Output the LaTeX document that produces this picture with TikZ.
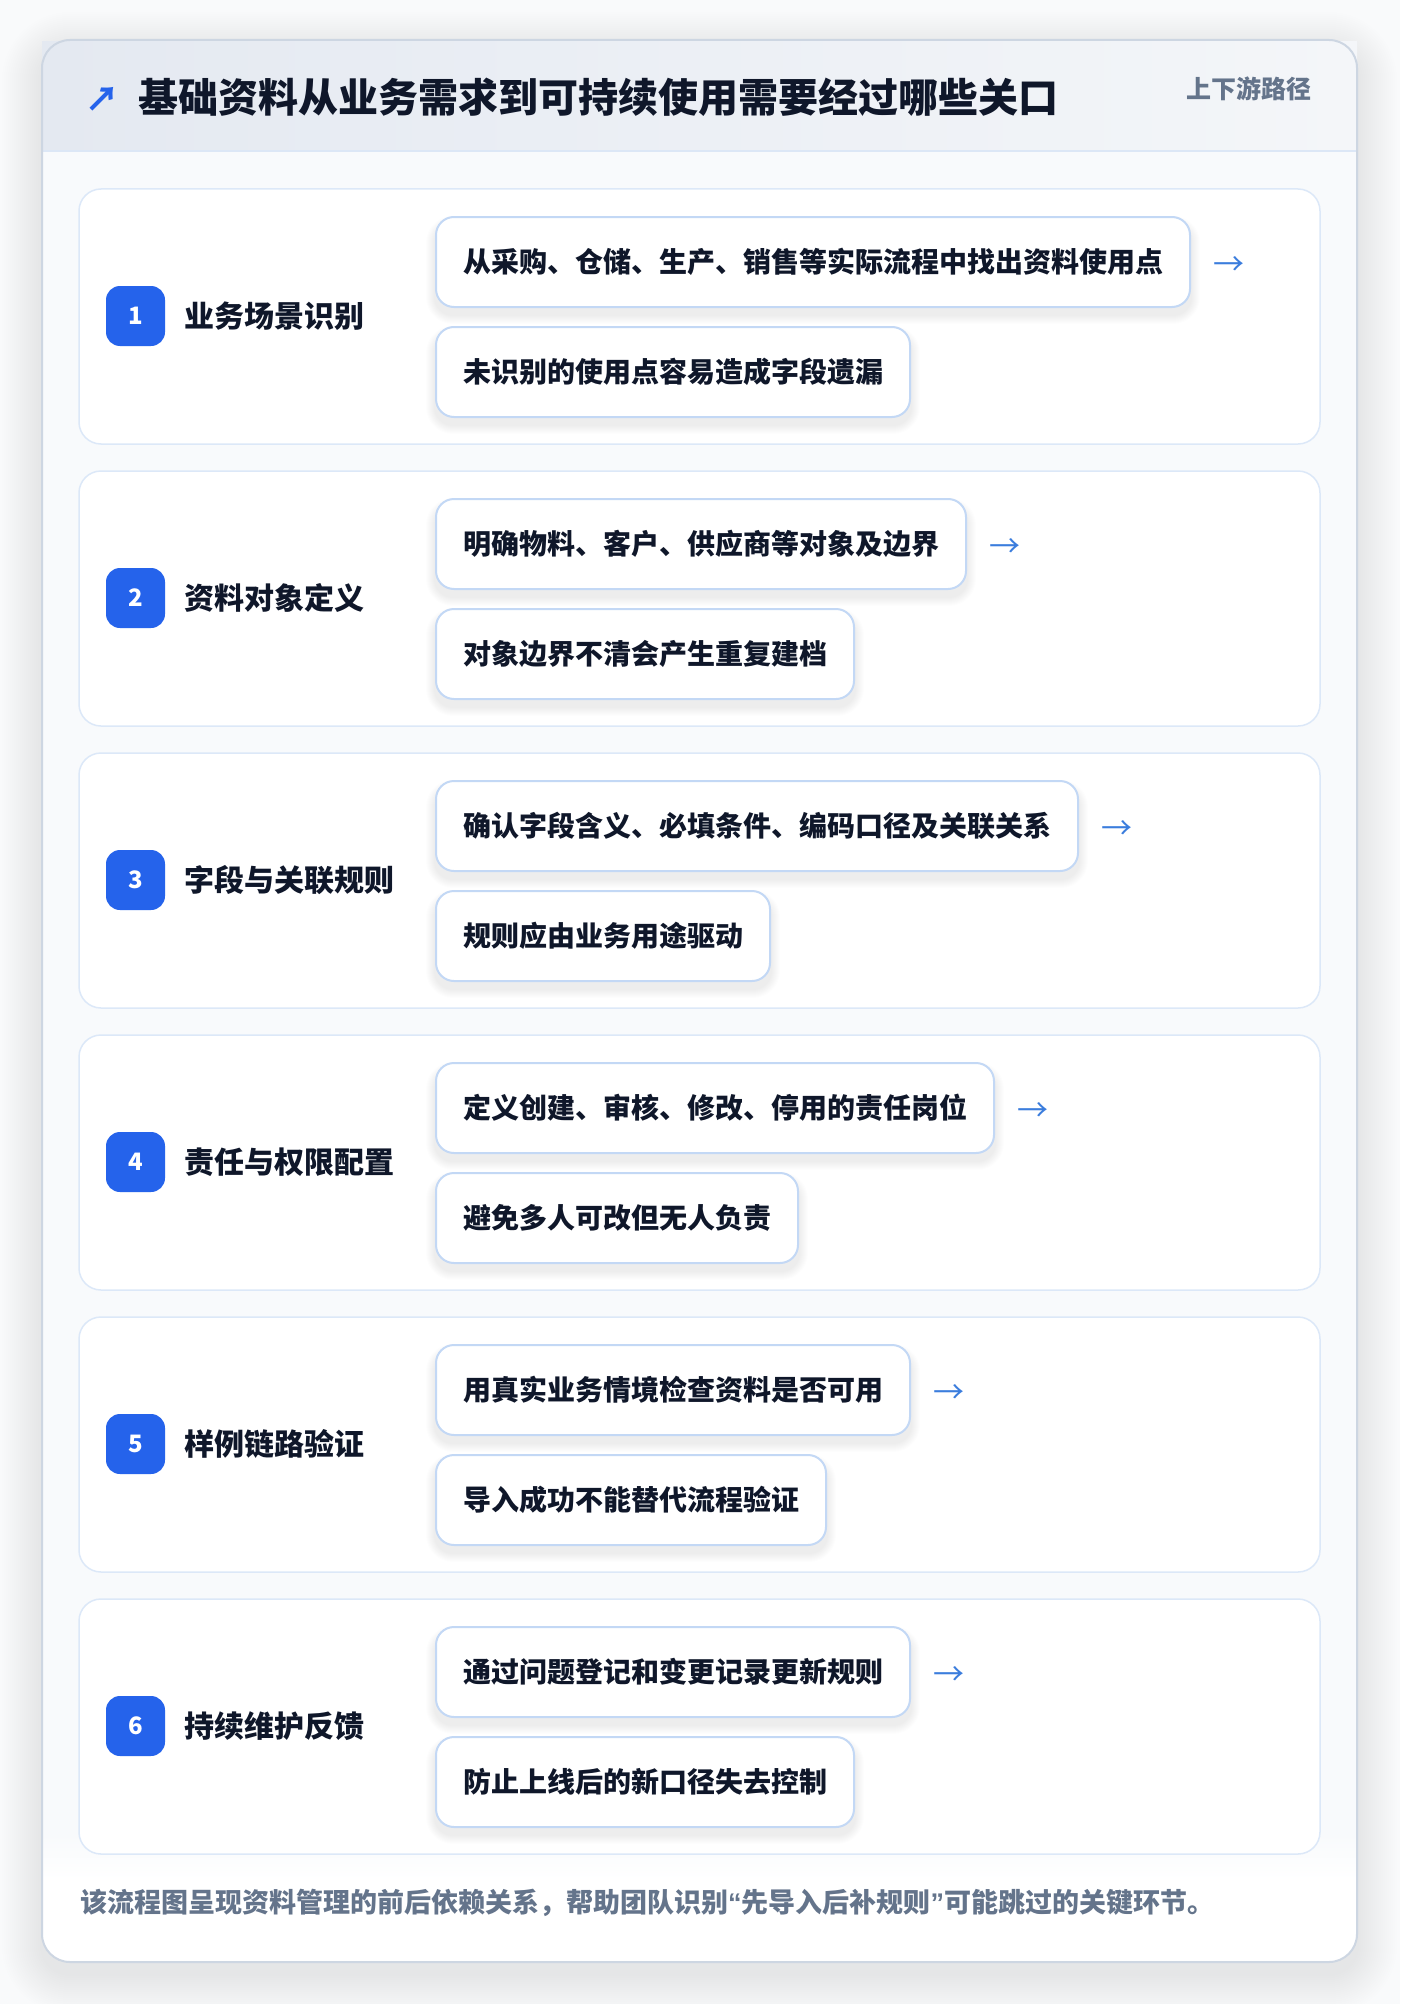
\documentclass[tikz,border=0pt]{standalone}
\usepackage{fontspec}
\setmainfont{Noto Sans CJK SC}[BoldFont={* Black}]
\newfontfamily\quotefont{Liberation Sans}
\usetikzlibrary{calc}
\definecolor{pagebg}{HTML}{F9FAFB}
\definecolor{cardline}{HTML}{CDD6E2}
\definecolor{bodybg}{HTML}{F8FAFC}
\definecolor{hdrL}{HTML}{E4E9F1}
\definecolor{hdrR}{HTML}{F4F6F9}
\definecolor{hdrline}{HTML}{DCE7F6}
\definecolor{panelline}{HTML}{DCE8F8}
\definecolor{boxline}{HTML}{C3D8F5}
\definecolor{badgec}{HTML}{2563EB}
\definecolor{ink}{HTML}{0F172A}
\definecolor{muted}{HTML}{64748B}
\definecolor{arrowc}{HTML}{3B7DDD}
\pgfdeclarelayer{cardlayer}
\pgfdeclarelayer{panellayer}
\pgfdeclarelayer{shadowlayer}
\pgfsetlayers{cardlayer,panellayer,shadowlayer,main}
\tikzset{
  panelbox/.style={draw=panelline, line width=1.5pt, fill=white, rounded corners=22pt,
    minimum width=1241pt, minimum height=255pt, inner sep=0pt, outer sep=0pt, anchor=north west},
  badgebox/.style={fill=badgec, rounded corners=14pt, minimum width=59pt, minimum height=60pt,
    inner sep=0pt, text=white, font=\bfseries\fontsize{24}{24}\selectfont},
  steptitle/.style={anchor=west, inner sep=0pt, text=ink, font=\bfseries\fontsize{30}{36}\selectfont},
  itembox/.style={anchor=west, draw=boxline, line width=2pt, fill=white, rounded corners=18pt,
    minimum height=90pt, inner xsep=27pt, inner ysep=0pt, text=ink,
    font=\bfseries\fontsize{28}{34}\selectfont},
  arrowtxt/.style={anchor=west, inner sep=0pt, text=arrowc, font=\fontsize{31}{31}\selectfont},
}
\begin{document}
\begin{tikzpicture}[x=1pt,y=-1pt]
\useasboundingbox (0,0) rectangle (1400,2004);
\begin{pgfonlayer}{cardlayer}
  \fill[pagebg] (0,0) rectangle (1400,2004);
  \foreach \i in {1,...,20} {
    \fill[black, opacity=0.0045, rounded corners=28+2*\i] (42-2*\i, 52-2*\i) rectangle (1357+2*\i, 1974+2*\i);
  }
  \fill[white, rounded corners=28pt] (42,40) rectangle (1357,1962);
  \fill[bodybg] (43,151) rectangle (1356,1835);
  \shade[top color=bodybg, bottom color=white] (43,1834) rectangle (1356,1880);
  \shade[left color=hdrL, right color=hdrR] (42,42) rectangle (1357,151);
  \draw[hdrline, line width=2pt] (42,151) -- (1357,151);
  \draw[cardline, line width=2pt, rounded corners=28pt] (42,40) rectangle (1357,1962);
\end{pgfonlayer}

\node[text=badgec, inner sep=0pt, font=\bfseries\fontsize{34}{34}\selectfont] (icon) at (102,99) {↗};
\node[anchor=west, inner sep=0pt, text=ink, font=\bfseries\fontsize{40}{48}\selectfont] (title) at (138,97) {基础资料从业务需求到可持续使用需要经过哪些关口};
\node[anchor=east, inner sep=0pt, text=muted, font=\bfseries\fontsize{25}{30}\selectfont] (tag) at (1312,89) {上下游路径};

\foreach \k/\ttl/\a/\b in {
  0/业务场景识别/从采购、仓储、生产、销售等实际流程中找出资料使用点/未识别的使用点容易造成字段遗漏,
  1/资料对象定义/明确物料、客户、供应商等对象及边界/对象边界不清会产生重复建档,
  2/字段与关联规则/确认字段含义、必填条件、编码口径及关联关系/规则应由业务用途驱动,
  3/责任与权限配置/定义创建、审核、修改、停用的责任岗位/避免多人可改但无人负责,
  4/样例链路验证/用真实业务情境检查资料是否可用/导入成功不能替代流程验证,
  5/持续维护反馈/通过问题登记和变更记录更新规则/防止上线后的新口径失去控制} {
  \pgfmathsetmacro\T{189+282*\k}
  \pgfmathtruncatemacro\n{\k+1}
  \begin{pgfonlayer}{panellayer}
    \node[panelbox] (p\k) at (79,\T) {};
  \end{pgfonlayer}
  \node[badgebox] (g\k) at (135.5,\T+127) {\n};
  \node[steptitle] (t\k) at (184,\T+127) {\ttl};
  \node[itembox] (x\k) at (435,\T+73) {\a};
  \node[itembox] (y\k) at (435,\T+183) {\b};
  \node[arrowtxt] (ar\k) at ([xshift=22pt,yshift=-4pt]x\k.east) {→};
  \begin{pgfonlayer}{shadowlayer}
    \foreach \bx in {x\k,y\k} {
      \foreach \i in {1,...,9} {
        \fill[black, opacity=0.009, rounded corners=18+\i] ($(\bx.south west)+(-\i,7+\i)$) rectangle ($(\bx.north east)+(\i,9-\i)$);
      }
    }
  \end{pgfonlayer}
}

\node[anchor=west, inner sep=0pt, text=muted, font=\bfseries\fontsize{27}{32}\selectfont] (foot) at (80,1903) {该流程图呈现资料管理的前后依赖关系，帮助团队识别{\quotefont “}先导入后补规则{\quotefont ”}可能跳过的关键环节。};
\end{tikzpicture}
\end{document}
